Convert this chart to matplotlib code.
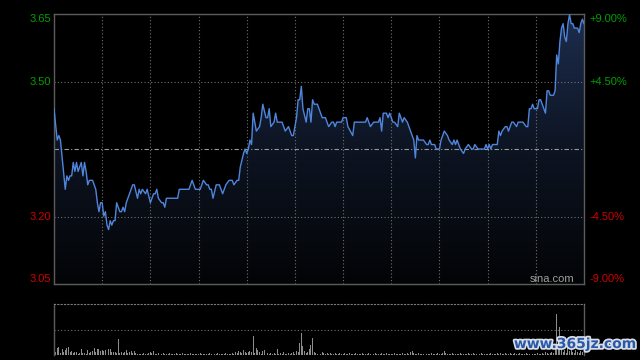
import matplotlib.pyplot as plt
import matplotlib.patheffects as pe
import matplotlib.transforms as mtransforms
from matplotlib.colors import LinearSegmentedColormap
from matplotlib.patches import Polygon
import numpy as np

# 字体
plt.rcParams['font.family'] = ['Liberation Sans', 'DejaVu Sans']

# 昨收
prev_close = 3.35

# 分时数据（分钟序号, 价格）
minutes = [0, 2, 3, 4, 7, 8, 9, 10, 11, 12, 13, 14, 15, 17, 18, 19, 20, 21, 22, 24,
           26, 27, 28, 29, 30, 31, 32, 33, 34, 35, 36, 37, 38, 39, 41, 42, 43, 44, 45, 47,
           49, 50, 52, 53, 54, 55, 57, 58, 60, 62, 63, 64, 65, 67, 68, 69, 70, 77, 78, 84,
           86, 88, 91, 93, 95, 96, 97, 98, 99, 101, 103, 104, 105, 107, 109, 111, 112, 114, 115, 116,
           118, 119, 120, 121, 122, 123, 124, 126, 128, 129, 130, 132, 133, 134, 135, 137, 138, 139, 142, 144,
           146, 148, 149, 151, 152, 153, 154, 155, 157, 158, 159, 160, 161, 162, 164, 167, 169, 171, 173, 174,
           175, 176, 178, 179, 180, 182, 183, 186, 187, 194, 195, 196, 197, 199, 202, 203, 204, 205, 207, 208,
           209, 211, 212, 214, 215, 217, 218, 220, 222, 224, 225, 226, 227, 228, 230, 232, 233, 234, 235, 237,
           238, 240, 241, 243, 245, 246, 248, 249, 250, 251, 252, 253, 255, 256, 258, 260, 261, 262, 264, 268,
           269, 270, 271, 272, 273, 274, 276, 277, 278, 279, 281, 282, 283, 285, 286, 288, 289, 292, 294, 295,
           296, 297, 298, 299, 301, 302, 303, 304, 305, 306, 307, 308, 309, 311, 312, 313, 314, 315, 316, 317,
           318, 319, 320, 321, 322, 323, 324, 326, 327, 328, 329, 330]
prices = [3.44, 3.37, 3.38, 3.37, 3.26, 3.29, 3.28, 3.29, 3.29, 3.32, 3.30, 3.32, 3.30, 3.32, 3.29, 3.32, 3.30, 3.27, 3.28, 3.28,
          3.26, 3.23, 3.21, 3.23, 3.23, 3.20, 3.21, 3.18, 3.17, 3.19, 3.18, 3.19, 3.19, 3.23, 3.21, 3.21, 3.22, 3.21, 3.23, 3.25,
          3.27, 3.27, 3.24, 3.26, 3.25, 3.26, 3.25, 3.26, 3.23, 3.25, 3.25, 3.26, 3.24, 3.23, 3.23, 3.22, 3.24, 3.24, 3.26, 3.26,
          3.28, 3.26, 3.26, 3.28, 3.27, 3.27, 3.26, 3.26, 3.24, 3.27, 3.27, 3.26, 3.25, 3.27, 3.28, 3.28, 3.27, 3.28, 3.28, 3.31,
          3.34, 3.35, 3.34, 3.35, 3.37, 3.36, 3.43, 3.39, 3.40, 3.42, 3.45, 3.42, 3.42, 3.44, 3.40, 3.41, 3.43, 3.41, 3.41, 3.39,
          3.40, 3.38, 3.38, 3.42, 3.46, 3.46, 3.49, 3.44, 3.41, 3.44, 3.44, 3.41, 3.46, 3.45, 3.45, 3.42, 3.42, 3.40, 3.41, 3.41,
          3.40, 3.41, 3.41, 3.41, 3.42, 3.42, 3.40, 3.38, 3.41, 3.41, 3.42, 3.41, 3.40, 3.41, 3.41, 3.42, 3.39, 3.43, 3.43, 3.42,
          3.43, 3.41, 3.41, 3.40, 3.43, 3.41, 3.42, 3.41, 3.39, 3.37, 3.33, 3.38, 3.37, 3.37, 3.37, 3.36, 3.36, 3.37, 3.36, 3.36,
          3.35, 3.35, 3.37, 3.39, 3.38, 3.37, 3.36, 3.37, 3.36, 3.37, 3.36, 3.35, 3.34, 3.35, 3.36, 3.35, 3.35, 3.36, 3.35, 3.35,
          3.36, 3.35, 3.36, 3.35, 3.36, 3.36, 3.36, 3.39, 3.38, 3.39, 3.40, 3.40, 3.39, 3.41, 3.41, 3.40, 3.41, 3.41, 3.40, 3.40,
          3.44, 3.44, 3.45, 3.44, 3.44, 3.46, 3.46, 3.45, 3.44, 3.43, 3.48, 3.48, 3.47, 3.47, 3.48, 3.56, 3.54, 3.59, 3.62, 3.63,
          3.60, 3.59, 3.63, 3.65, 3.63, 3.63, 3.62, 3.62, 3.61, 3.63, 3.64, 3.63]

# 成交量（每分钟）
volumes = [6, 3, 7, 8, 2, 6, 3, 5, 7, 8,
           3, 4, 2, 3, 3, 1, 2, 6, 2, 2,
           1, 5, 2, 3, 4, 7, 3, 6, 6, 4,
           5, 4, 5, 10, 6, 6, 3, 3, 3, 2,
           16, 2, 3, 2, 3, 5, 2, 3, 4, 2,
           4, 2, 1, 1, 1, 1, 2, 1, 1, 2,
           3, 2, 4, 1, 1, 2, 1, 1, 2, 1,
           1, 1, 2, 1, 1, 1, 2, 1, 1, 1,
           2, 1, 1, 1, 1, 2, 1, 1, 1, 1,
           1, 2, 1, 1, 1, 1, 1, 2, 1, 1,
           1, 1, 2, 1, 1, 1, 1, 2, 1, 1,
           1, 2, 1, 3, 2, 4, 3, 2, 5, 3,
           2, 3, 4, 3, 19, 2, 7, 5, 3, 1,
           4, 5, 3, 2, 1, 2, 1, 2, 1, 6,
           1, 2, 1, 3, 1, 1, 2, 1, 2, 3,
           1, 4, 3, 12, 22, 9, 4, 2, 3, 6,
           10, 17, 3, 2, 1, 2, 1, 3, 2, 1,
           2, 1, 2, 1, 1, 2, 1, 1, 2, 1,
           1, 2, 1, 1, 2, 1, 1, 1, 2, 1,
           1, 1, 2, 1, 1, 1, 2, 1, 1, 1,
           2, 1, 1, 1, 2, 1, 1, 2, 1, 1,
           1, 1, 2, 1, 1, 1, 1, 2, 1, 1,
           2, 1, 3, 4, 2, 1, 1, 2, 1, 1,
           1, 2, 1, 1, 1, 2, 1, 1, 1, 2,
           1, 1, 2, 4, 2, 1, 1, 1, 2, 1,
           1, 1, 1, 2, 1, 1, 1, 1, 2, 1,
           1, 2, 1, 1, 1, 1, 2, 1, 1, 1,
           1, 1, 2, 1, 1, 1, 2, 1, 2, 1,
           1, 2, 1, 1, 2, 1, 1, 2, 1, 1,
           2, 1, 1, 1, 2, 1, 1, 2, 1, 1,
           1, 2, 1, 1, 2, 1, 3, 2, 1, 2,
           3, 2, 8, 41, 12, 28, 6, 3, 5, 2,
           8, 4, 6, 3, 2, 5, 3, 2, 4, 3, 2]

pct_levels = [0.09, 0.045, -0.045, -0.09]

grid_color = '#707070'
border_color = '#5c5c5c'
line_color = '#4f86dc'

fig = plt.figure(figsize=(6.4, 3.6), dpi=100, facecolor='black')
ax = fig.add_axes([54 / 640, 76 / 360, 530 / 640, 270 / 360], facecolor='black')
axv = fig.add_axes([54 / 640, 5 / 360, 530 / 640, 51 / 360], facecolor='black')

n_min = 330
ylo, yhi = prev_close * 0.91, prev_close * 1.09
ax.set_xlim(0, n_min)
ax.set_ylim(ylo, yhi)

# 渐变填充
cmap = LinearSegmentedColormap.from_list('fill', ['#030406', '#0d1422', '#1d2d4e'])
grad = np.linspace(0, 1, 256).reshape(-1, 1)
im = ax.imshow(grad, extent=[0, n_min, ylo, yhi], origin='lower', aspect='auto',
               cmap=cmap, zorder=1)
verts = [(minutes[0], ylo)] + list(zip(minutes, prices)) + [(minutes[-1], ylo)]
poly = Polygon(verts, closed=True, facecolor='none', edgecolor='none', transform=ax.transData)
ax.add_patch(poly)
im.set_clip_path(poly)

# 网格
for m in range(30, n_min, 30):
    ax.axvline(m, color=grid_color, lw=0.8, linestyle=(0, (1, 2)), zorder=2)
for p in [0.045, -0.045]:
    ax.axhline(prev_close * (1 + p), color=grid_color, lw=0.8, linestyle=(0, (1, 2)), zorder=2)
ax.axhline(prev_close, color='#9a9a9a', lw=0.8, linestyle=(0, (4, 2, 1, 2)), zorder=2)

# 价格线
ax.plot(minutes, prices, color=line_color, lw=1.0, zorder=3)

for s in ax.spines.values():
    s.set_color(border_color)
    s.set_linewidth(1.0)
ax.set_xticks([])
ax.set_yticks([])

# 左右刻度文字
trans_l = mtransforms.blended_transform_factory(ax.transAxes, ax.transData)
for p in pct_levels:
    v = prev_close * (1 + p)
    col = '#00a000' if p > 0 else '#d00000'
    va = 'center'
    if p == 0.09:
        va = 'top'
    elif p == -0.09:
        va = 'bottom'
    ax.text(-0.006, v, f'{v:.2f}', transform=trans_l, ha='right', va=va,
            color=col, fontsize=8, clip_on=False)
    ax.text(1.011, v, f'{p * 100:+.2f}%', transform=trans_l, ha='left', va=va,
            color=col, fontsize=8, clip_on=False)

ax.text(0.94, 0.018, 'sina.com', transform=ax.transAxes, ha='center', va='center',
        color='#a0a0a0', fontsize=8, zorder=4)

# 成交量
axv.set_xlim(0, n_min)
axv.set_ylim(0, 51)
axv.bar(range(len(volumes)), volumes, width=0.6, color='#8c8c8c', zorder=2)
axv.axhline(25.5, color=grid_color, lw=0.8, linestyle=(0, (1, 2)), zorder=1)
axv.spines['bottom'].set_visible(False)
axv.spines['top'].set_color('#7a7a7a')
axv.spines['top'].set_linestyle((0, (1, 2)))
axv.spines['top'].set_linewidth(0.8)
for k in ['left', 'right']:
    axv.spines[k].set_color(border_color)
    axv.spines[k].set_linewidth(1.0)
axv.set_xticks([])
axv.set_yticks([])

# 水印
fig.text(575 / 640, 1 - 344 / 360, 'www.365jz.com', ha='center', va='center',
         color='#2858a8', fontsize=10, fontweight='bold', family='DejaVu Sans',
         path_effects=[pe.withStroke(linewidth=2.5, foreground='#d8dde8')])

plt.savefig('out.png', dpi=100, facecolor='black')
